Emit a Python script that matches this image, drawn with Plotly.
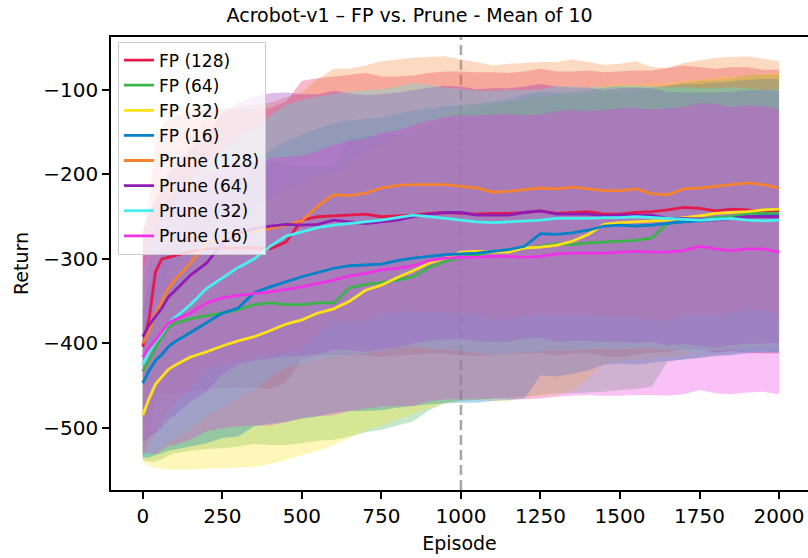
import numpy as np
import plotly.graph_objects as go

# Episode grid
episodes = [0, 20, 40, 60, 80, 100, 150, 200, 250, 300,
            350, 400, 450, 500, 550, 600, 650, 700, 750, 800,
            850, 900, 950, 1000, 1050, 1100, 1150, 1200, 1250, 1300,
            1350, 1400, 1450, 1500, 1550, 1600, 1650, 1700, 1750, 1800,
            1850, 1900, 1950, 2000]

series_names = ["FP (128)", "FP (64)", "FP (32)", "FP (16)",
                "Prune (128)", "Prune (64)", "Prune (32)", "Prune (16)"]

fp128_mean = [-404, -370, -315, -300, -298, -296, -291, -288, -287, -287,
              -287, -288, -280, -254, -250, -249, -248, -247, -250, -249,
              -248, -246, -245, -246, -247, -246, -246, -245, -243, -246,
              -245, -244, -247, -247, -245, -244, -242, -239, -240, -243,
              -241, -242, -244, -244]
fp128_std = [130, 140, 150, 158, 163, 165, 166, 167, 166, 165,
             165, 166, 166, 165, 164, 165, 166, 167, 166, 165,
             165, 166, 167, 168, 168, 167, 166, 167, 168, 168,
             167, 167, 168, 169, 168, 167, 168, 168, 167, 168,
             168, 169, 168, 168]

fp64_mean = [-433, -420, -405, -392, -381, -376, -371, -367, -364, -360,
             -354, -352, -354, -354, -352, -352, -334, -330, -328, -325,
             -321, -310, -303, -298, -295, -291, -289, -287, -285, -282,
             -283, -281, -280, -279, -278, -275, -258, -255, -253, -251,
             -250, -246, -246, -246]
fp64_std = [105, 120, 135, 145, 152, 154, 156, 158, 160, 162,
            165, 168, 166, 164, 163, 162, 176, 175, 174, 172,
            171, 169, 167, 170, 172, 174, 175, 176, 176, 177,
            176, 177, 177, 176, 176, 176, 163, 164, 164, 163,
            163, 164, 164, 164]

fp32_mean = [-485, -465, -448, -440, -431, -426, -416, -410, -403, -397,
             -392, -385, -377, -372, -364, -359, -350, -337, -331, -322,
             -314, -305, -299, -292, -291, -292, -292, -287, -286, -284,
             -279, -271, -259, -257, -256, -255, -254, -251, -249, -246,
             -245, -244, -242, -241]
fp32_std = [55, 80, 99, 108, 118, 123, 133, 138, 145, 150,
            154, 158, 161, 160, 163, 161, 162, 166, 166, 168,
            169, 171, 172, 175, 176, 176, 176, 178, 178, 178,
            177, 170, 165, 164, 163, 163, 162, 162, 161, 161,
            161, 161, 161, 161]

fp16_mean = [-447, -432, -420, -413, -404, -398, -387, -376, -364, -358,
             -340, -333, -327, -321, -316, -311, -308, -307, -306, -302,
             -299, -297, -295, -294, -293, -291, -289, -285, -270, -271,
             -269, -266, -261, -260, -261, -260, -258, -256, -255, -253,
             -252, -250, -249, -249]
fp16_std = [88, 103, 112, 117, 123, 127, 135, 142, 148, 152,
            158, 162, 166, 168, 170, 171, 172, 173, 173, 174,
            175, 175, 176, 176, 177, 177, 178, 180, 168, 168,
            167, 166, 164, 164, 164, 163, 163, 163, 162, 162,
            162, 162, 162, 162]

pr128_mean = [-400, -385, -365, -350, -335, -325, -305, -280, -275, -270,
              -267, -264, -260, -255, -237, -224, -225, -222, -216, -213,
              -212, -212, -212, -214, -216, -221, -220, -218, -216, -217,
              -215, -217, -219, -219, -217, -223, -224, -217, -216, -214,
              -212, -210, -212, -216]
pr128_std = [135, 138, 140, 142, 144, 145, 147, 149, 150, 151,
             150, 149, 151, 152, 150, 149, 150, 151, 150, 149,
             150, 151, 152, 150, 149, 150, 151, 150, 149, 150,
             151, 150, 149, 150, 151, 150, 150, 149, 151, 152,
             151, 150, 149, 150]

pr64_mean = [-392, -378, -368, -358, -345, -338, -319, -305, -282, -270,
             -264, -261, -259, -260, -259, -254, -256, -258, -256, -254,
             -250, -247, -245, -245, -248, -248, -248, -245, -243, -247,
             -247, -247, -249, -248, -248, -248, -252, -252, -253, -254,
             -252, -250, -250, -250]
pr64_std = [125, 133, 138, 142, 145, 147, 150, 152, 154, 155,
            156, 157, 156, 155, 154, 153, 152, 152, 151, 151,
            150, 150, 150, 149, 149, 150, 150, 149, 150, 151,
            150, 150, 149, 150, 151, 150, 150, 149, 150, 151,
            150, 150, 150, 149]

pr32_mean = [-425, -410, -398, -388, -376, -370, -354, -335, -323, -310,
             -300, -285, -273, -268, -263, -260, -258, -256, -254, -251,
             -248, -250, -252, -254, -256, -257, -256, -255, -254, -252,
             -252, -252, -251, -251, -250, -251, -252, -253, -254, -253,
             -252, -254, -255, -254]
pr32_std = [110, 122, 130, 135, 140, 143, 147, 150, 152, 153,
            154, 155, 155, 156, 155, 155, 156, 156, 155, 155,
            156, 156, 155, 155, 155, 156, 156, 155, 155, 156,
            156, 155, 155, 156, 156, 155, 155, 156, 156, 155,
            155, 156, 155, 155]

pr16_mean = [-416, -405, -396, -386, -376, -372, -364, -352, -346, -343,
             -341, -339, -336, -333, -329, -325, -320, -317, -313, -311,
             -308, -302, -299, -298, -298, -297, -297, -298, -297, -294,
             -293, -293, -293, -292, -291, -292, -292, -290, -285, -288,
             -290, -288, -288, -292]
pr16_std = [114, 125, 135, 140, 145, 148, 150, 152, 154, 155,
            156, 158, 157, 155, 157, 160, 160, 160, 162, 163,
            166, 166, 167, 168, 168, 168, 169, 168, 168, 169,
            169, 168, 169, 170, 170, 169, 170, 170, 170, 171,
            170, 170, 169, 168]

x_ticks = [0, 250, 500, 750, 1000, 1250, 1500, 1750, 2000]
y_ticks = [-500, -400, -300, -200, -100]
marker_episode = 1000

colors = ["#e6194b", "#3cb44b", "#ffe119", "#0082c8",
          "#f58231", "#911eb4", "#46f0f0", "#f032e6"]

means = [fp128_mean, fp64_mean, fp32_mean, fp16_mean,
         pr128_mean, pr64_mean, pr32_mean, pr16_mean]
stds = [fp128_std, fp64_std, fp32_std, fp16_std,
        pr128_std, pr64_std, pr32_std, pr16_std]


def rgba(hex_color, a):
    h = hex_color.lstrip("#")
    r, g, b = int(h[0:2], 16), int(h[2:4], 16), int(h[4:6], 16)
    return f"rgba({r},{g},{b},{a})"


FONT = "DejaVu Sans"
fig = go.Figure()

x_arr = np.array(episodes)
for name, col, m, s in zip(series_names, colors, means, stds):
    m = np.array(m, dtype=float)
    s = np.array(s, dtype=float)
    upper = m + s
    lower = m - s
    fig.add_trace(go.Scatter(
        x=np.concatenate([x_arr, x_arr[::-1]]),
        y=np.concatenate([upper, lower[::-1]]),
        fill="toself", fillcolor=rgba(col, 0.3),
        line=dict(width=0), mode="lines",
        showlegend=False, hoverinfo="skip"))

for name, col, m in zip(series_names, colors, means):
    fig.add_trace(go.Scatter(
        x=episodes, y=m, mode="lines", name=name,
        line=dict(color=col, width=2.8)))

fig.add_shape(type="line", xref="x", yref="paper",
              x0=marker_episode, x1=marker_episode, y0=0, y1=1,
              line=dict(color="rgba(128,128,128,0.7)", width=2.5, dash="10px,5px"),
              layer="below")

axis_common = dict(
    showgrid=False, zeroline=False, showline=True, automargin=False,
    linecolor="black", linewidth=1.6,
    ticks="outside", ticklen=7, tickwidth=1.6, tickcolor="black",
    tickfont=dict(family=FONT, size=20, color="black"),
)

fig.update_layout(
    width=808, height=558,
    margin=dict(l=111, r=0, t=37, b=68, autoexpand=False),
    paper_bgcolor="white", plot_bgcolor="white",
    title=dict(text="Acrobot-v1 – FP vs. Prune - Mean of 10",
               x=0.507, xref="container", xanchor="center",
               y=0.973, yref="container", yanchor="middle",
               font=dict(family=FONT, size=19, color="black")),
    xaxis=dict(range=[-100, 2091], tickvals=x_ticks, mirror=True,
               title=dict(text="Episode", standoff=10,
                          font=dict(family=FONT, size=19, color="black")),
               **axis_common),
    yaxis=dict(range=[-573.4, -37.3], tickvals=y_ticks, mirror=False,
               title=dict(text="Return", standoff=10,
                          font=dict(family=FONT, size=19, color="black")),
               **axis_common),
    legend=dict(x=0.01, y=0.99, xanchor="left", yanchor="top",
                bgcolor="rgba(255,255,255,0.8)", bordercolor="#cccccc",
                borderwidth=1,
                font=dict(family=FONT, size=17, color="black")),
    showlegend=True,
)

fig.write_html("out.html",
               config={"displayModeBar": False},
               post_script="document.body.style.margin='0px';"
                           "document.body.style.overflow='hidden';")
